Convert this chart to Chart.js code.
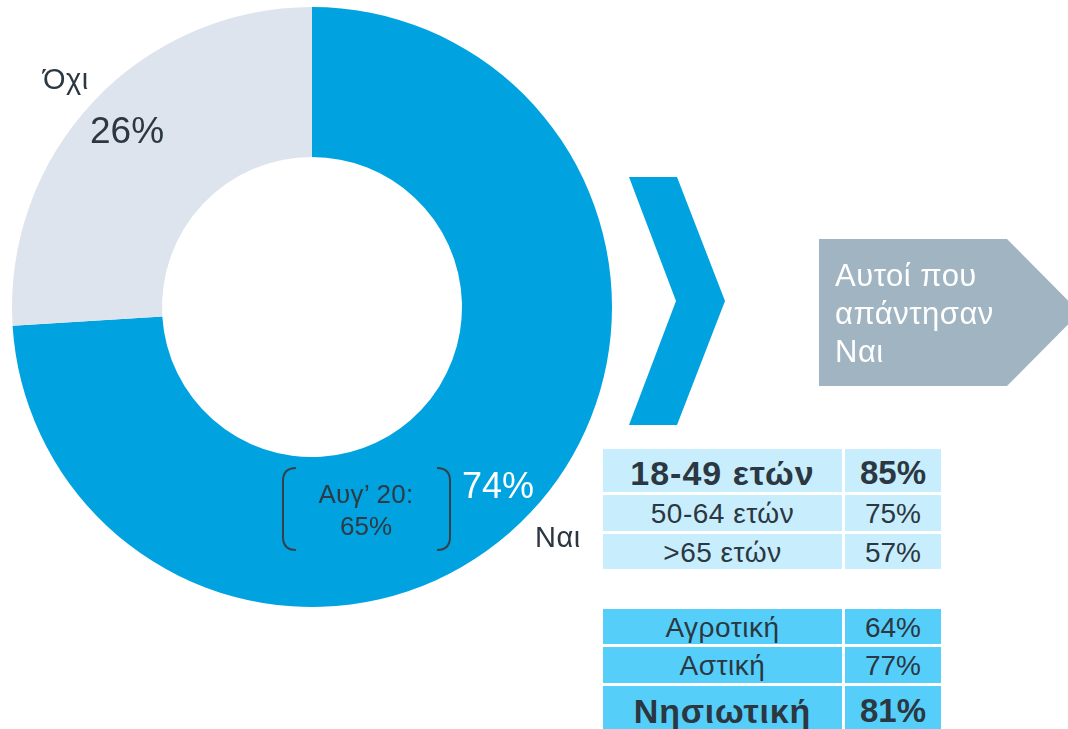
<!DOCTYPE html>
<html>
<head>
<meta charset="utf-8">
<script src="https://cdn.jsdelivr.net/npm/chart.js@4"></script>
<style>
  html, body { margin:0; padding:0; background:#ffffff; }
  body { width:1068px; height:729px; position:relative; overflow:hidden;
         font-family:"Liberation Sans", Arial, sans-serif; color:#2b3741; }
  #donut { position:absolute; left:0; top:0; }
  .lbl { position:absolute; white-space:nowrap; }
  .cell { position:absolute; display:flex; align-items:center; justify-content:center;
          white-space:nowrap; box-sizing:border-box; }
  svg { position:absolute; left:0; top:0; }
</style>
</head>
<body>
<svg width="1068" height="729" id="shapes">
  <polygon points="629,177 677,177 725,301 677,425 629,425 676,301" fill="#00a3e0"/>
  <polygon points="819,239 1007,239 1080,312.5 1007,386 819,386" fill="#a0b4c1"/>
</svg>
<canvas id="donut" width="624" height="614"></canvas>
<svg width="1068" height="729" id="brackets">
  <path d="M296,468 Q283,468 283,481 L283,537 Q283,550 296,550" fill="none" stroke="#34404a" stroke-width="2"/>
  <path d="M437,468 Q450,468 450,481 L450,537 Q450,550 437,550" fill="none" stroke="#34404a" stroke-width="2"/>
</svg>
<div id="overlay"></div>
<script>
// ---- data ----
const answerLabels = ['Ναι', 'Όχι'];
const answerValues = [74, 26];
const previousLabel = 'Αυγ’ 20:';
const previousValue = 65;
const boxLines = ['Αυτοί που', 'απάντησαν', 'Ναι'];
const ageGroups = ['18-49 ετών', '50-64 ετών', '>65 ετών'];
const ageValues = [85, 75, 57];
const areaGroups = ['Αγροτική', 'Αστική', 'Νησιωτική'];
const areaValues = [64, 77, 81];

// ---- doughnut ----
new Chart(document.getElementById('donut'), {
  type: 'doughnut',
  data: {
    labels: answerLabels,
    datasets: [{
      data: answerValues,
      backgroundColor: ['#00a3e0', '#dee4ee'],
      borderWidth: 0,
      hoverOffset: 0
    }]
  },
  options: {
    responsive: false,
    animation: false,
    cutout: '50%',
    rotation: 0,
    layout: { padding: { top: 7, bottom: 7, left: 0, right: 0 } },
    plugins: { legend: { display: false }, tooltip: { enabled: false } }
  }
});

// ---- text overlay ----
const ov = document.getElementById('overlay');
function addLabel(text, left, baseline, size, opts = {}) {
  const d = document.createElement('div');
  d.className = 'lbl';
  d.textContent = text;
  d.style.fontSize = size + 'px';
  d.style.lineHeight = size + 'px';
  d.style.top = (baseline - 0.8465 * size) + 'px';
  if (opts.center) { d.style.left = (left - 200) + 'px'; d.style.width = '400px'; d.style.textAlign = 'center'; }
  else d.style.left = left + 'px';
  if (opts.color) d.style.color = opts.color;
  if (opts.bold) d.style.fontWeight = 'bold';
  if (opts.ls) d.style.letterSpacing = opts.ls + 'px';
  ov.appendChild(d);
}
addLabel(answerLabels[1], 43, 90, 29, { ls: 0.5 });
addLabel(answerValues[1] + '%', 90, 143, 37);
addLabel(answerValues[0] + '%', 462, 498, 36, { color: '#ffffff' });
addLabel(answerLabels[0], 535, 548, 29, { ls: 0.5 });
addLabel(previousLabel, 366, 503, 26, { center: true, color: '#2e3a44', ls: 0.3 });
addLabel(previousValue + '%', 366, 535, 26, { center: true, color: '#2e3a44' });

boxLines.forEach((t, i) => addLabel(t, 835, 286 + i * 38, 31, { color: '#ffffff', ls: 0.5 }));

function addCell(text, left, top, width, height, bg, size, bold, ls) {
  const d = document.createElement('div');
  d.className = 'cell';
  d.textContent = text;
  Object.assign(d.style, {
    left: left + 'px', top: top + 'px', width: width + 'px', height: height + 'px',
    background: bg, fontSize: size + 'px', fontWeight: bold ? 'bold' : 'normal',
    paddingTop: (bold ? 5 : 2) + 'px', letterSpacing: (ls || 0) + 'px'
  });
  ov.appendChild(d);
}
const ageRows = [[449, 43], [495, 36], [534, 35]];
ageGroups.forEach((g, i) => {
  const bold = i === 0;
  addCell(g, 603, ageRows[i][0], 239, ageRows[i][1], '#c8eefd', bold ? 34 : 28, bold, bold ? 1 : 0.5);
  addCell(ageValues[i] + '%', 845, ageRows[i][0], 96, ageRows[i][1], '#c8eefd', bold ? 33 : 28, bold, 0);
});
const areaRows = [[609, 35], [647, 36], [686, 45]];
areaGroups.forEach((g, i) => {
  const bold = i === 2;
  addCell(g, 603, areaRows[i][0], 239, areaRows[i][1], '#55cffa', bold ? 34 : 28, bold, bold ? 0.8 : 0.5);
  addCell(areaValues[i] + '%', 845, areaRows[i][0], 96, areaRows[i][1], '#55cffa', bold ? 33 : 28, bold, 0);
});
</script>
</body>
</html>
